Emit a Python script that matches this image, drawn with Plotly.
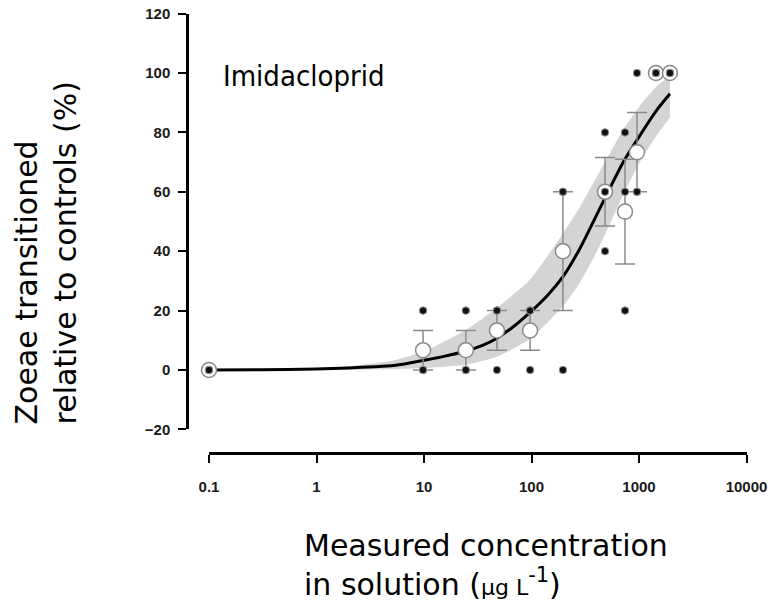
import plotly.graph_objects as go

# ---- data ----
rep_conc = [0.1, 0.1, 0.1, 9.8, 9.8, 9.8, 24.5, 24.5, 24.5, 47.7, 47.7, 47.7,
            97, 97, 97, 196, 196, 196, 483, 483, 483, 741, 741, 741,
            958, 958, 958, 1438, 1438, 1438, 1941, 1941, 1941]
rep_value = [0, 0, 0, 20, 0, 0, 20, 0, 0, 20, 20, 0,
             20, 20, 0, 60, 60, 0, 80, 60, 40, 80, 60, 20,
             100, 60, 60, 100, 100, 100, 100, 100, 100]

mean_conc = [0.1, 9.8, 24.5, 47.7, 97, 196, 483, 741, 958, 1438, 1941]
mean_value = [0, 6.67, 6.67, 13.33, 13.33, 40, 60, 53.33, 73.33, 100, 100]
mean_se = [0, 6.67, 6.67, 6.67, 6.67, 20, 11.55, 17.64, 13.33, 0, 0]

curve_conc = [0.1, 0.3, 1, 2, 3.5, 5.2, 7, 9.8, 15, 24.5, 35, 47.7, 70, 97, 140,
              196, 283, 434, 714, 1021, 1462, 1941]
curve_pct = [0, 0.05, 0.3, 0.7, 1.1, 1.5, 2.2, 3.2, 4.5, 6.4, 8.3, 10.7, 15, 19.4, 25,
             31.4, 41, 54.5, 70, 79, 87.5, 93]

band_conc = [0.1, 0.5, 1, 2, 5.2, 9.8, 24.5, 47.7, 97, 196, 283, 434, 714, 1021, 1462, 1941]
band_lower = [0, 0, 0, 0.1, 0.3, 0.7, 1.8, 4.5, 10.5, 21.5, 29.5, 42, 59, 70, 79, 85]
band_upper = [0, 0.2, 0.5, 1.3, 3.2, 6.2, 13.5, 21, 30.5, 46, 55, 67, 81, 89, 95.5, 99]

x_tickvals = [0.1, 1, 10, 100, 1000, 10000]
x_ticktext = ["0.1", "1", "10", "100", "1000", "10000"]
y_tickvals = [-20, 0, 20, 40, 60, 80, 100, 120]

W, H = 772, 601
TXT = "Verdana, DejaVu Sans, sans-serif"
TICKFONT = dict(family="Arial, Liberation Sans", size=15, color="#1a1a1a", weight="bold")

fig = go.Figure()

# confidence band
fig.add_trace(go.Scatter(x=band_conc, y=band_lower, mode="lines",
                         line=dict(width=0, color="rgba(0,0,0,0)", shape="spline", smoothing=0.6),
                         showlegend=False, hoverinfo="skip"))
fig.add_trace(go.Scatter(x=band_conc, y=band_upper, mode="lines", fill="tonexty",
                         fillcolor="#d4d4d4",
                         line=dict(width=0, color="rgba(0,0,0,0)", shape="spline", smoothing=0.6),
                         showlegend=False, hoverinfo="skip"))
# fitted curve
fig.add_trace(go.Scatter(x=curve_conc, y=curve_pct, mode="lines",
                         line=dict(color="black", width=3, shape="spline", smoothing=0.6),
                         showlegend=False))

# error bars (only where se > 0)
eb_x = [c for c, s in zip(mean_conc, mean_se) if s > 0]
eb_y = [m for m, s in zip(mean_value, mean_se) if s > 0]
eb_s = [s for s in mean_se if s > 0]
fig.add_trace(go.Scatter(x=eb_x, y=eb_y, mode="markers",
                         marker=dict(size=1, color="rgba(0,0,0,0)"),
                         error_y=dict(type="data", array=eb_s, visible=True,
                                      color="#8a8a8a", thickness=1.5, width=10),
                         cliponaxis=False, showlegend=False))
# means
fig.add_trace(go.Scatter(x=mean_conc, y=mean_value, mode="markers",
                         marker=dict(size=15, color="white",
                                     line=dict(color="#8a8a8a", width=1.5)),
                         cliponaxis=False, showlegend=False))
# replicates
fig.add_trace(go.Scatter(x=rep_conc, y=rep_value, mode="markers",
                         marker=dict(size=7.5, color="#111111",
                                     line=dict(color="#9a9a9a", width=1)),
                         cliponaxis=False, showlegend=False))

x0, x1 = 209, 746.5
ytop, ybot = 13.6, 429.4
fig.update_layout(
    width=W, height=H,
    margin=dict(l=0, r=0, t=0, b=0),
    paper_bgcolor="white", plot_bgcolor="white",
    showlegend=False,
    xaxis=dict(type="log", range=[-1, 4], domain=[x0 / W, x1 / W],
               anchor="free", position=(H - 453) / H,
               showgrid=False, zeroline=False, showline=True, linecolor="black",
               linewidth=2.5, ticks="outside", ticklen=8, tickwidth=1.5,
               tickcolor="black", tickvals=x_tickvals, ticktext=x_ticktext,
               tickfont=TICKFONT, ticklabelstandoff=11, automargin=False),
    yaxis=dict(range=[-20, 120], domain=[(H - ybot) / H, (H - ytop) / H],
               anchor="free", position=187 / W,
               showgrid=False, zeroline=False, showline=True, linecolor="black",
               linewidth=2.5, ticks="outside", ticklen=8, tickwidth=1.5,
               tickcolor="black", tickvals=y_tickvals,
               tickfont=TICKFONT, ticklabelstandoff=5, automargin=False),
    annotations=[
        dict(text="Imidacloprid", x=221 / W, y=(H - 76) / H, xref="paper", yref="paper",
             xanchor="left", yanchor="middle", showarrow=False,
             font=dict(family="DejaVu Sans Condensed, DejaVu Sans, sans-serif",
                       size=29, color="black")),
        dict(text="Zoeae transitioned<br>relative to controls (%)",
             x=45 / W, y=(H - 427) / H, xref="paper", yref="paper",
             xanchor="center", yanchor="bottom", textangle=-90, align="left",
             showarrow=False, font=dict(family=TXT, size=30, color="black")),
        dict(text="Measured concentration<br>in solution (<span style='font-size:22px'>µg L</span><sup>-1</sup>)",
             x=302 / W, y=(H - 526) / H, xref="paper", yref="paper",
             xanchor="left", yanchor="top", align="left", showarrow=False,
             font=dict(family=TXT, size=30, color="black")),
    ],
)

fig.write_html("out.html")
